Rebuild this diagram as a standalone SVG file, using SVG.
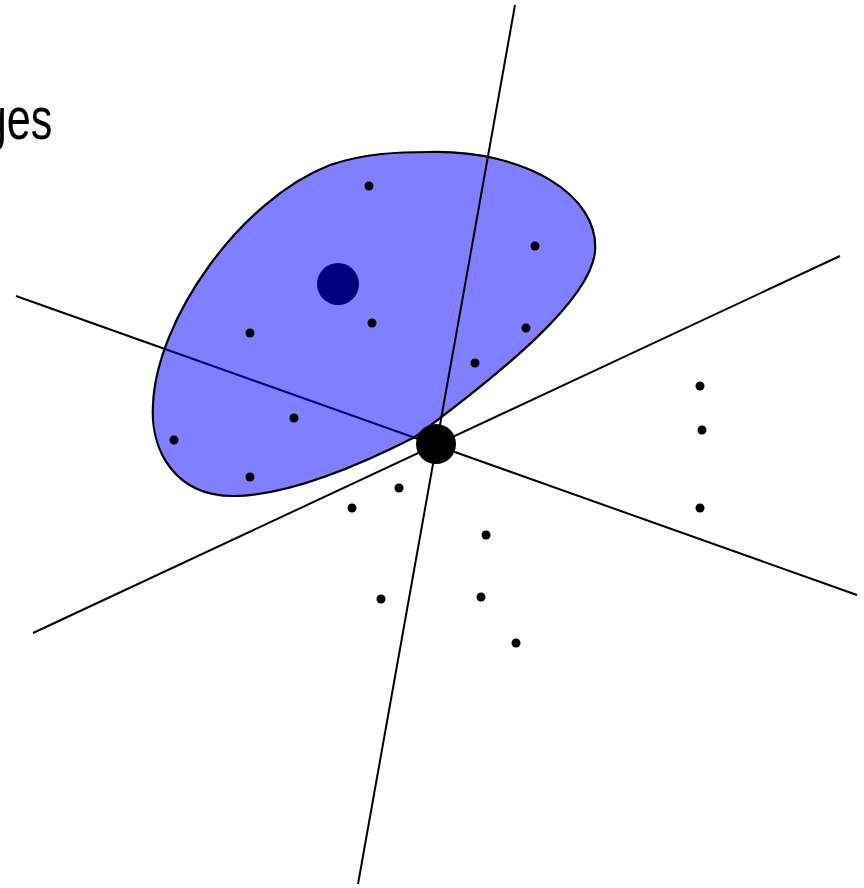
<svg xmlns="http://www.w3.org/2000/svg" width="864" height="888" viewBox="0 0 864 888">
<style>
.ln{stroke:#000;stroke-width:2;fill:none;stroke-linecap:butt}
.dot{fill:#000}
.blob{fill:#0000ff;fill-opacity:0.5;stroke:#000;stroke-width:2.2}
.lbl{font-family:"Liberation Sans",Arial,sans-serif;font-size:60px;fill:#000}
</style>
<rect width="864" height="888" fill="#fff"/>
<text class="lbl" transform="scale(0.72,1)" x="-24" y="139">ges</text>
<g id="connectors">
<line id="line-b" class="ln" x1="16" y1="296" x2="857" y2="595"/>
</g>
<g id="center-navy">
<circle cx="338" cy="284" r="21" fill="#000"/>
</g>
<g id="region">
<path class="blob" d="M 430,152 C 525,150 600,195 595,252 C 590,300 505,370 415,437 C 360,465 290,495 235,496 C 175,497 150,450 153,405 C 156,320 240,200 330,165 C 365,153 400,152 430,152 Z"/>
</g>
<g id="connectors2">
<line id="line-a" class="ln" x1="515" y1="5" x2="358" y2="884"/>
<line id="line-c" class="ln" x1="33" y1="633" x2="840" y2="256"/>
</g>
<g id="apex">
<circle cx="436" cy="444" r="20" fill="#000"/>
</g>
<g id="points">
<circle class="dot" cx="369" cy="186" r="4.5"/>
<circle class="dot" cx="535" cy="246" r="4.5"/>
<circle class="dot" cx="250" cy="333" r="4.5"/>
<circle class="dot" cx="372" cy="323" r="4.5"/>
<circle class="dot" cx="526" cy="328" r="4.5"/>
<circle class="dot" cx="475" cy="363" r="4.5"/>
<circle class="dot" cx="294" cy="418" r="4.5"/>
<circle class="dot" cx="174" cy="440" r="4.5"/>
<circle class="dot" cx="250" cy="477" r="4.5"/>
<circle class="dot" cx="399" cy="488" r="4.5"/>
<circle class="dot" cx="352" cy="508" r="4.5"/>
<circle class="dot" cx="486" cy="535" r="4.5"/>
<circle class="dot" cx="381" cy="599" r="4.5"/>
<circle class="dot" cx="481" cy="597" r="4.5"/>
<circle class="dot" cx="516" cy="643" r="4.5"/>
<circle class="dot" cx="700" cy="386" r="4.5"/>
<circle class="dot" cx="702" cy="430" r="4.5"/>
<circle class="dot" cx="700" cy="508" r="4.5"/>
</g>
</svg>
